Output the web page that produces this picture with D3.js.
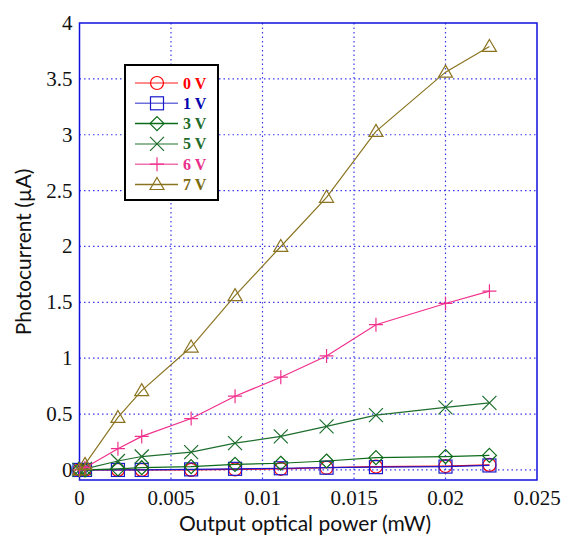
<!DOCTYPE html>
<html>
<head>
<meta charset="utf-8">
<script src="https://d3js.org/d3.v7.min.js"></script>
<style>
  body { margin: 0; background: #fff; }
  .axis-title { font-family: Lato, "Open Sans", "Liberation Sans", sans-serif; font-size: 21px; fill: #111; }
  .legend-label { font-family: "Liberation Serif", serif; font-size: 16px; font-weight: bold; }
</style>
</head>
<body>
<div id="chart"></div>
<script>
// data
const power = [0, 0.0003, 0.0021, 0.0034, 0.0061, 0.0085, 0.011, 0.0135, 0.0162, 0.02, 0.0224];
const v0 = [0, 0, 0, 0, 0, 0.005, 0.01, 0.02, 0.03, 0.035, 0.045];
const v1 = [0, 0, 0, 0, 0.005, 0.01, 0.015, 0.02, 0.025, 0.03, 0.04];
const v3 = [0, 0, 0.01, 0.02, 0.03, 0.05, 0.06, 0.08, 0.11, 0.12, 0.13];
const v5 = [0, 0.01, 0.08, 0.12, 0.16, 0.24, 0.30, 0.39, 0.49, 0.56, 0.60];
const v6 = [0, 0.02, 0.19, 0.30, 0.46, 0.66, 0.83, 1.02, 1.30, 1.49, 1.60];
const v7 = [0, 0.05, 0.47, 0.71, 1.10, 1.56, 2.00, 2.44, 3.03, 3.56, 3.79];
const seriesNames = ["0 V", "1 V", "3 V", "5 V", "6 V", "7 V"];
const xTicks = [0, 0.005, 0.01, 0.015, 0.02, 0.025];
const yTicks = [0, 0.5, 1, 1.5, 2, 2.5, 3, 3.5, 4];

const series = [
  { name: seriesNames[0], values: v0, color: "#ff0000", legendLine: "#ff6666", text: "#ff0000", marker: "circle" },
  { name: seriesNames[1], values: v1, color: "#1a1acc", legendLine: "#7070dd", text: "#0000b0", marker: "square" },
  { name: seriesNames[2], values: v3, color: "#0b6b1a", legendLine: "#0b6b1a", text: "#1e6b2a", marker: "diamond" },
  { name: seriesNames[3], values: v5, color: "#1e6e2e", legendLine: "#6aa070", text: "#1e6b2a", marker: "cross" },
  { name: seriesNames[4], values: v6, color: "#f0308c", legendLine: "#f070b0", text: "#e8308a", marker: "plus" },
  { name: seriesNames[5], values: v7, color: "#8a7420", legendLine: "#8a7420", text: "#7a6a10", marker: "triangle" }
];

const width = 567, height = 540;
const margin = { top: 23, right: 30, bottom: 60, left: 79.5 };
const tickFont = "'Liberation Serif', 'DejaVu Serif', serif";

const svg = d3.select("#chart").append("svg")
  .attr("width", width).attr("height", height);

const x = d3.scaleLinear().domain([0, 0.025]).range([margin.left, width - margin.right]);
const y = d3.scaleLinear().domain([-0.09, 4]).range([height - margin.bottom, margin.top]);

const plotL = x(0), plotR = x(0.025), plotT = y(4), plotB = y(-0.09);

// grid
const grid = svg.append("g");
grid.selectAll(".gx").data(xTicks.filter(d => d > 0 && d < 0.025)).enter().append("line")
  .attr("x1", d => x(d)).attr("x2", d => x(d)).attr("y1", plotT).attr("y2", plotB)
  .attr("stroke", "#3a3aee").attr("stroke-width", 1.2).attr("stroke-dasharray", "1.5,3");
grid.selectAll(".gy").data(yTicks.filter(d => d < 4)).enter().append("line")
  .attr("x1", plotL).attr("x2", plotR).attr("y1", d => y(d)).attr("y2", d => y(d))
  .attr("stroke", "#3a3aee").attr("stroke-width", 1.2).attr("stroke-dasharray", "1.5,3");

// frame
svg.append("rect")
  .attr("x", plotL).attr("y", plotT).attr("width", plotR - plotL).attr("height", plotB - plotT)
  .attr("fill", "none").attr("stroke", "#1010dd").attr("stroke-width", 1.5);

// tick labels
svg.selectAll(".xt").data(xTicks).enter().append("text")
  .style("font-family", tickFont).style("font-size", "21px").attr("fill", "#111")
  .attr("x", d => x(d)).attr("y", plotB + 25)
  .attr("text-anchor", "middle")
  .text(d => d === 0 ? "0" : d3.format("")(+d.toFixed(3)));
svg.selectAll(".yt").data(yTicks).enter().append("text")
  .style("font-family", tickFont).style("font-size", "21px").attr("fill", "#111")
  .attr("x", plotL - 7).attr("y", d => y(d) + 7)
  .attr("text-anchor", "end")
  .text(d => d);

// axis titles
svg.append("text").attr("class", "axis-title")
  .attr("x", 305).attr("y", 531).attr("text-anchor", "middle")
  .text("Output optical power (mW)");
svg.append("text").attr("class", "axis-title")
  .attr("transform", "translate(31,252) rotate(-90)").attr("text-anchor", "middle")
  .text("Photocurrent (µA)");

// marker drawing
function drawMarker(g, type, color) {
  if (type === "circle") {
    g.append("circle").attr("r", 6.5).attr("fill", "none").attr("stroke", color).attr("stroke-width", 1.2);
  } else if (type === "square") {
    g.append("rect").attr("x", -6.5).attr("y", -6.5).attr("width", 13).attr("height", 13)
      .attr("fill", "none").attr("stroke", color).attr("stroke-width", 1.2);
  } else if (type === "diamond") {
    g.append("path").attr("d", "M0,-7L7,0L0,7L-7,0Z")
      .attr("fill", "none").attr("stroke", color).attr("stroke-width", 1.2);
  } else if (type === "cross") {
    g.append("path").attr("d", "M-7,-7L7,7M-7,7L7,-7")
      .attr("fill", "none").attr("stroke", color).attr("stroke-width", 1.2);
  } else if (type === "plus") {
    g.append("path").attr("d", "M-7,0L7,0M0,-7L0,7")
      .attr("fill", "none").attr("stroke", color).attr("stroke-width", 1.2);
  } else if (type === "triangle") {
    g.append("path").attr("d", "M0,-7L7,5L-7,5Z")
      .attr("fill", "none").attr("stroke", color).attr("stroke-width", 1.2);
  }
}

const line = d3.line().x(d => x(d[0])).y(d => y(d[1]));

series.forEach(s => {
  const pts = power.map((p, i) => [p, s.values[i]]);
  svg.append("path").datum(pts)
    .attr("d", line).attr("fill", "none")
    .attr("stroke", s.color).attr("stroke-width", 1.2);
  pts.forEach(p => {
    const g = svg.append("g").attr("transform", `translate(${x(p[0])},${y(p[1])})`);
    drawMarker(g, s.marker, s.color);
  });
});

// legend
const legend = svg.append("g").attr("transform", "translate(125,65)");
legend.append("rect").attr("width", 93).attr("height", 135)
  .attr("fill", "#fff").attr("stroke", "#000").attr("stroke-width", 2);
series.forEach((s, i) => {
  const ly = 18 + i * 20.3;
  legend.append("line").attr("x1", 10).attr("x2", 53).attr("y1", ly).attr("y2", ly)
    .attr("stroke", s.legendLine).attr("stroke-width", 1.5);
  const g = legend.append("g").attr("transform", `translate(32,${ly})`);
  drawMarker(g, s.marker, s.color);
  legend.append("text").attr("class", "legend-label")
    .attr("x", 58).attr("y", ly + 5.5).attr("fill", s.text).text(s.name);
});
</script>
</body>
</html>
